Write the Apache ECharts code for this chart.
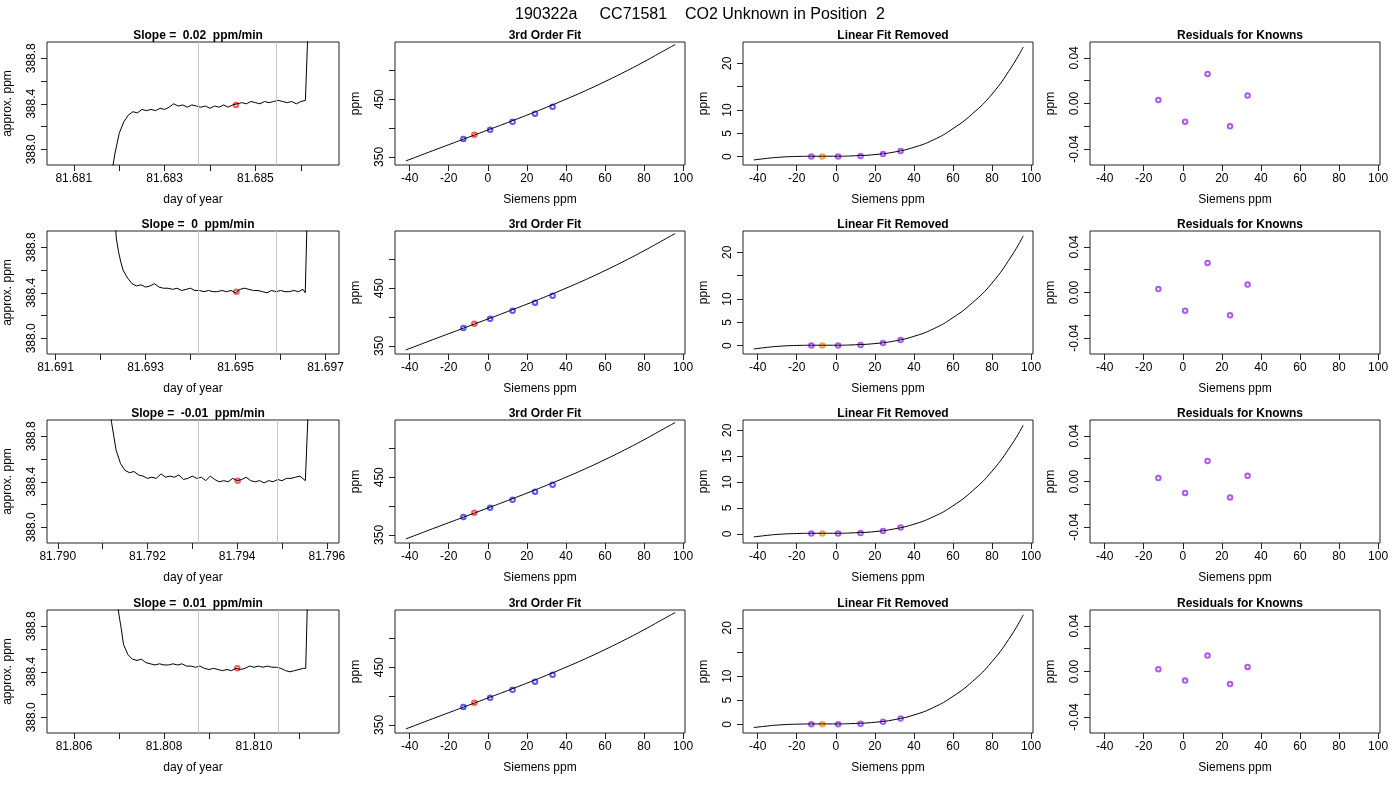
<!DOCTYPE html>
<html><head><meta charset="utf-8">
<script src="https://cdn.jsdelivr.net/npm/echarts@6/dist/echarts.min.js"></script>
<style>html,body{margin:0;background:#fff}#c{width:1400px;height:800px}</style>
</head><body><div id="c"></div>
<script>
// ---------- DATA ----------
const mainTitle = "190322a     CC71581    CO2 Unknown in Position  2";
const slopeTitles = ["Slope =  0.02  ppm/min", "Slope =  0  ppm/min", "Slope =  -0.01  ppm/min", "Slope =  0.01  ppm/min"];

// column 1 : time series (day of year, approx. ppm)
const ts1x = [81.6818,81.6819,81.6820,81.6821,81.6822,81.6823,81.6824,81.6825,81.6826,81.6827,81.6828,81.6829,81.6830,81.6831,81.6832,81.6833,81.6834,81.6835,81.6836,81.6837,81.6838,81.6839,81.6840,81.6841,81.6842,81.6843,81.6844,81.6845,81.6846,81.6847,81.6848,81.6849,81.6850,81.6851,81.6852,81.6853,81.6854,81.6855,81.6856,81.6857,81.6858,81.6859,81.6860,81.6861,81.68617];
const ts1y = [387.70,387.95,388.14,388.24,388.30,388.33,388.32,388.35,388.34,388.35,388.34,388.36,388.35,388.37,388.40,388.38,388.39,388.37,388.39,388.38,388.37,388.38,388.36,388.38,388.37,388.39,388.37,388.39,388.40,388.41,388.40,388.42,388.41,388.40,388.42,388.41,388.42,388.43,388.42,388.41,388.42,388.40,388.42,388.43,389.20];
const ts2x = [81.6923,81.69235,81.6924,81.69245,81.6925,81.6926,81.6927,81.6928,81.6929,81.6930,81.6931,81.6932,81.6933,81.6934,81.6935,81.6936,81.6937,81.6938,81.6939,81.6940,81.6941,81.6942,81.6943,81.6944,81.6945,81.6946,81.6947,81.6948,81.6949,81.6950,81.6951,81.6952,81.6953,81.6954,81.6955,81.6956,81.6957,81.6958,81.6959,81.6960,81.6961,81.6962,81.6963,81.6964,81.6965,81.69655,81.6966];
const ts2y = [389.20,388.88,388.76,388.67,388.60,388.53,388.48,388.46,388.47,388.45,388.46,388.48,388.45,388.44,388.44,388.43,388.44,388.42,388.43,388.44,388.42,388.42,388.41,388.42,388.41,388.41,388.42,388.41,388.42,388.40,388.43,388.44,388.43,388.42,388.42,388.41,388.40,388.42,388.41,388.42,388.41,388.41,388.42,388.41,388.43,388.40,389.20];
const ts3x = [81.7911,81.7912,81.79125,81.7913,81.7914,81.7915,81.7916,81.7917,81.7918,81.7919,81.7920,81.7921,81.7922,81.7923,81.7924,81.7925,81.7926,81.7927,81.7928,81.7929,81.7930,81.7931,81.7932,81.7933,81.7934,81.7935,81.7936,81.7937,81.7938,81.7939,81.7940,81.7941,81.7942,81.7943,81.7944,81.7945,81.7946,81.7947,81.7948,81.7949,81.7950,81.7951,81.7952,81.7953,81.7954,81.79552,81.7956];
const ts3y = [389.20,388.92,388.80,388.68,388.56,388.50,388.48,388.49,388.46,388.45,388.43,388.44,388.43,388.47,388.44,388.45,388.44,388.46,388.42,388.43,388.45,388.43,388.44,388.41,388.45,388.42,388.40,388.41,388.40,388.43,388.41,388.42,388.44,388.41,388.40,388.41,388.39,388.41,388.40,388.42,388.41,388.43,388.43,388.44,388.45,388.41,389.20];
const ts4x = [81.8069,81.8070,81.80705,81.8071,81.8072,81.8073,81.8074,81.8075,81.8076,81.8077,81.8078,81.8079,81.8080,81.8081,81.8082,81.8083,81.8084,81.8085,81.8086,81.8087,81.8088,81.8089,81.8090,81.8091,81.8092,81.8093,81.8094,81.8095,81.8096,81.8097,81.8098,81.8099,81.8100,81.8101,81.8102,81.8103,81.8104,81.8105,81.8106,81.8107,81.8108,81.8109,81.8110,81.8111,81.81115,81.8112];
const ts4y = [389.20,388.90,388.78,388.64,388.55,388.51,388.50,388.51,388.48,388.47,388.46,388.47,388.46,388.46,388.47,388.46,388.47,388.45,388.45,388.44,388.45,388.43,388.42,388.43,388.42,388.41,388.42,388.41,388.43,388.42,388.43,388.45,388.44,388.45,388.44,388.45,388.44,388.44,388.43,388.41,388.40,388.41,388.42,388.43,388.43,389.20];
const tsX = [ts1x, ts2x, ts3x, ts4x];
const tsY = [ts1y, ts2y, ts3y, ts4y];
const tsRange = [[81.68041,81.68684],[81.69081,81.69730],[81.78976,81.79627],[81.80540,81.81189]];
const tsTicks = [[81.681,81.682,81.683,81.684,81.685,81.686],[81.691,81.692,81.693,81.694,81.695,81.696,81.697],[81.790,81.791,81.792,81.793,81.794,81.795,81.796],[81.806,81.807,81.808,81.809,81.810,81.811]];
const tsLabels = [[81.681,81.683,81.685],[81.691,81.693,81.695,81.697],[81.790,81.792,81.794,81.796],[81.806,81.808,81.810]];
const windowLines = [[81.68374,81.68546],[81.69418,81.69591],[81.79314,81.79490],[81.80876,81.81054]];
const unknownTime = [[81.68457,388.39],[81.69502,388.41],[81.79401,388.41],[81.80963,388.43]];
const tsYTicks = [388.0,388.2,388.4,388.6,388.8];
const tsYLabels = [388.0,388.4,388.8];

// knowns (Siemens ppm) and assigned ppm
const knownX = [-12.5, 1.2, 12.7, 24.2, 33.2];
const knownPpm = [381, 397, 411, 425, 437];
const unknownX = -6.9;
const unknownPpm = 388.4;
// 3rd order fit curve
const fitX = [-42,-35,-30,-20,-10,0,10,20,30,40,50,60,70,80,90,96];
const fitY = [343,352,358.5,371.2,383.9,396.6,409.4,422.4,435.9,450.0,464.8,480.6,497.3,515.0,533.8,545.0];
// linear fit removed curves per row
const linY = [
  [-0.7,-0.35,-0.15,0.05,0.1,0.1,0.2,0.45,1.0,2.0,3.6,6.0,9.2,13.4,19.2,23.5],
  [-0.7,-0.35,-0.15,0.05,0.1,0.1,0.2,0.45,1.0,2.0,3.6,6.0,9.2,13.4,19.2,23.5],
  [-0.6,-0.3,-0.12,0.05,0.1,0.1,0.2,0.42,0.95,1.85,3.3,5.4,8.3,12.1,17.2,21.0],
  [-0.65,-0.33,-0.14,0.05,0.1,0.1,0.2,0.44,0.98,1.95,3.5,5.8,8.9,13.0,18.5,22.7]
];
const linKnownY = [0.05,0.05,0.15,0.55,1.2];
const linUnknownY = 0.05;
const linMax = [24.56, 24.56, 22.0, 23.7];
// residuals
const resid = [
  [0.003,-0.016,0.026,-0.020,0.007],
  [0.003,-0.016,0.026,-0.020,0.007],
  [0.003,-0.010,0.018,-0.014,0.005],
  [0.002,-0.008,0.014,-0.011,0.004]
];

// ---------- LAYOUT ----------
const colLeft = [47, 395, 743, 1090];
const colW = [292, 290, 290, 290];
const rowTop = [42, 231, 420, 610];
const H = 123;
const sieTicks = [-40,-20,0,20,40,60,80,100];

const FONT = "Liberation Sans";
const grids = [], xAxes = [], yAxes = [], series = [], titles = [];
titles.push({text: mainTitle, left: 'center', top: 2, textStyle:{fontFamily:FONT,fontSize:16,fontWeight:'normal',color:'#000'}});

const tickStyle = {color:'#222'};
function xTick(vals){ return {show:true, inside:false, length:6, lineStyle:tickStyle, customValues: vals}; }
function xLab(vals, fmt){ const o = {fontFamily:FONT,fontSize:12,color:'#000',margin:8,customValues:vals}; if(fmt) o.formatter=fmt; return o; }
function yLab(vals, fmt){ const o = {fontFamily:FONT,fontSize:12,color:'#000',rotate:90,margin:9,align:'center',verticalAlign:'bottom',customValues:vals}; if(fmt) o.formatter=fmt; return o; }

function addPanel(r, c, title, xa, ya) {
  const i = grids.length;
  grids.push({left: colLeft[c], top: rowTop[r], width: colW[c], height: H, show:true, borderColor:'#222', borderWidth:1, backgroundColor:'transparent'});
  titles.push({text: title, left: colLeft[c] + colW[c]/2, top: rowTop[r] - 17, textAlign:'center',
    textStyle:{fontFamily:FONT,fontSize:12,fontWeight:'bold',color:'#000'}});
  xAxes.push(Object.assign({gridIndex:i, type:'value', position:'bottom', splitLine:{show:false}, axisLine:{show:false, onZero:false},
    nameLocation:'middle', nameGap:29, nameTextStyle:{fontFamily:FONT,fontSize:12,color:'#000'}}, xa));
  yAxes.push(Object.assign({gridIndex:i, type:'value', position:'left', splitLine:{show:false}, axisLine:{show:false, onZero:false},
    nameLocation:'middle', nameGap:33, nameRotate:90, nameTextStyle:{fontFamily:FONT,fontSize:12,color:'#000'}}, ya));
  return i;
}
function pairs(xs, ys){ return xs.map((x,k)=>[x,ys[k]]); }
const SYM = 4.5;

for (let r = 0; r < 4; r++) {
  // col 1
  let i = addPanel(r, 0, slopeTitles[r],
    {min: tsRange[r][0], max: tsRange[r][1], name:'day of year', axisTick: xTick(tsTicks[r]), axisLabel: xLab(tsLabels[r], v=>v.toFixed(3))},
    {min: 387.862, max: 388.943, name:'approx. ppm', axisTick: xTick(tsYTicks), axisLabel: yLab(tsYLabels, v=>v.toFixed(1))});
  series.push({type:'line', xAxisIndex:i, yAxisIndex:i, data: pairs(tsX[r], tsY[r]), showSymbol:false, lineStyle:{color:'#000',width:1}, clip:true,
    markLine:{silent:true, symbol:'none', precision:6, label:{show:false}, lineStyle:{color:'#c8c8c8',width:1,type:'solid'},
      data: windowLines[r].map(x=>({xAxis:x}))}});
  series.push({type:'scatter', xAxisIndex:i, yAxisIndex:i, data:[unknownTime[r]], symbol:'emptyCircle', symbolSize:SYM, itemStyle:{color:'#ff3030',borderWidth:1}});

  // col 2
  i = addPanel(r, 1, '3rd Order Fit',
    {min:-47.5, max:101, name:'Siemens ppm', axisTick: xTick(sieTicks), axisLabel: xLab(sieTicks)},
    {min:336, max:549.3, name:'ppm', axisTick: xTick([350,400,450,500]), axisLabel: yLab([350,450])});
  series.push({type:'line', xAxisIndex:i, yAxisIndex:i, data: pairs(fitX, fitY), smooth:true, showSymbol:false, lineStyle:{color:'#000',width:1}});
  series.push({type:'scatter', xAxisIndex:i, yAxisIndex:i, data: pairs(knownX, knownPpm), symbol:'emptyCircle', symbolSize:SYM, itemStyle:{color:'#3030ff',borderWidth:1}});
  series.push({type:'scatter', xAxisIndex:i, yAxisIndex:i, data: [[unknownX, unknownPpm]], symbol:'emptyCircle', symbolSize:SYM, itemStyle:{color:'#ff3030',borderWidth:1}});

  // col 3
  i = addPanel(r, 2, 'Linear Fit Removed',
    {min:-47.5, max:101, name:'Siemens ppm', axisTick: xTick(sieTicks), axisLabel: xLab(sieTicks)},
    {min:-1.78, max:linMax[r], name:'ppm', axisTick: xTick([0,5,10,15,20]), axisLabel: yLab(r===2?[0,5,10,15,20]:[0,5,10,20])});
  series.push({type:'line', xAxisIndex:i, yAxisIndex:i, data: pairs(fitX, linY[r]), smooth:true, showSymbol:false, lineStyle:{color:'#000',width:1}});
  series.push({type:'scatter', xAxisIndex:i, yAxisIndex:i, data: pairs(knownX, linKnownY), symbol:'emptyCircle', symbolSize:SYM, itemStyle:{color:'#9a30f0',borderWidth:1}});
  series.push({type:'scatter', xAxisIndex:i, yAxisIndex:i, data: [[unknownX, linUnknownY]], symbol:'emptyCircle', symbolSize:SYM, itemStyle:{color:'#ff8c10',borderWidth:1}});

  // col 4
  i = addPanel(r, 3, 'Residuals for Knowns',
    {min:-47.5, max:101, name:'Siemens ppm', axisTick: xTick(sieTicks), axisLabel: xLab(sieTicks)},
    {min:-0.054, max:0.054, name:'ppm', axisTick: xTick([-0.04,-0.02,0,0.02,0.04]), axisLabel: yLab([-0.04,0,0.04], v=>v.toFixed(2))});
  series.push({type:'scatter', xAxisIndex:i, yAxisIndex:i, data: pairs(knownX, resid[r]), symbol:'emptyCircle', symbolSize:SYM, itemStyle:{color:'#9a30f0',borderWidth:1}});
}

const chart = echarts.init(document.getElementById('c'), null, {renderer:'canvas'});
chart.setOption({animation:false, backgroundColor:'#fff', title: titles, grid: grids, xAxis: xAxes, yAxis: yAxes, series: series});
</script></body></html>
